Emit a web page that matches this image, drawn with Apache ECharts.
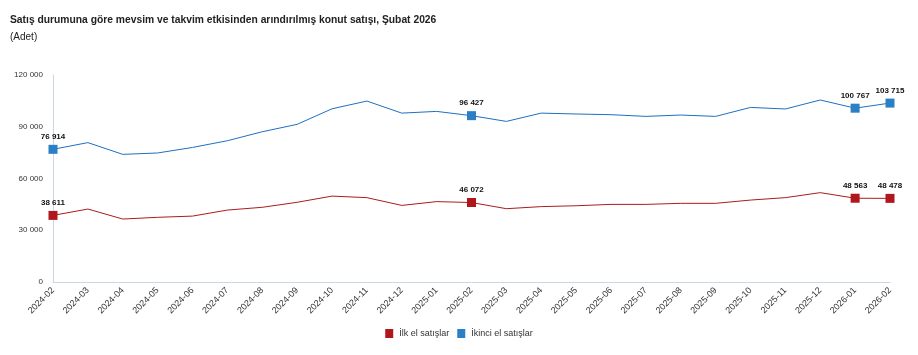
<!DOCTYPE html>
<html>
<head>
<meta charset="utf-8">
<script src="https://cdn.jsdelivr.net/npm/echarts@6/dist/echarts.min.js"></script>
<style>
html,body{margin:0;padding:0;background:#fff;}
#c{width:918px;height:355px;}
</style>
</head>
<body>
<div id="c"></div>
<script>
const categories = ['2024-02','2024-03','2024-04','2024-05','2024-06','2024-07','2024-08','2024-09','2024-10','2024-11','2024-12','2025-01','2025-02','2025-03','2025-04','2025-05','2025-06','2025-07','2025-08','2025-09','2025-10','2025-11','2025-12','2026-01','2026-02'];
const ilkEl = [38611,42300,36500,37500,38200,41700,43300,46200,49800,48900,44400,46600,46072,42500,43700,44200,45000,45000,45600,45600,47500,48900,51800,48563,48478];
const ikinciEl = [76914,80800,74000,74800,78000,81900,87100,91400,100400,104900,97900,98900,96427,93100,97900,97400,97000,96000,96800,96000,101200,100300,105500,100767,103715];
const markedIndices = [0,12,23,24];
const yTicks = [0,30000,60000,90000,120000];
const seriesNames = ['İlk el satışlar','İkinci el satışlar'];

const fmt = v => String(v).replace(/\B(?=(\d{3})+(?!\d))/g, ' ');

function build(values){
  return values.map((v,i) => markedIndices.includes(i)
    ? {value:v, symbol:'rect', symbolSize:9, label:{show:true}}
    : {value:v});
}

const chart = echarts.init(document.getElementById('c'), null, {renderer:'canvas'});
chart.setOption({
  animation:false,
  textStyle:{fontFamily:'"Liberation Sans", Arial, sans-serif'},
  title:[
    {text:'Satış durumuna göre mevsim ve takvim etkisinden arındırılmış konut satışı, Şubat 2026',
     left:10, top:15, padding:0, textStyle:{fontSize:10.3, fontWeight:'bold', color:'#222'}},
    {text:'(Adet)', left:10, top:32, padding:0, textStyle:{fontSize:10, fontWeight:'normal', color:'#222'}}
  ],
  color:['#b0171c','#2a7fc5'],
  legend:{
    data:seriesNames, bottom:12, left:'center', icon:'rect', itemWidth:8, itemHeight:9, itemGap:8,
    textStyle:{fontSize:9, color:'#333', padding:[0,0,0,1]}
  },
  grid:{left:53, right:28, top:75, bottom:73},
  xAxis:{
    type:'category', data:categories, boundaryGap:false,
    axisLine:{lineStyle:{color:'#ccd6eb'}},
    axisTick:{show:false},
    axisLabel:{rotate:45, fontSize:9, color:'#333', margin:7, interval:0}
  },
  yAxis:{
    type:'value', min:yTicks[0], max:yTicks[yTicks.length-1], interval:30000,
    axisLine:{show:true, lineStyle:{color:'#ccd6eb'}},
    splitLine:{show:false},
    axisLabel:{fontSize:8, color:'#333', margin:10, formatter:fmt}
  },
  series:[
    {name:seriesNames[0], type:'line', data:build(ilkEl), symbol:'none',
     lineStyle:{width:1, color:'#a81c1c'}, itemStyle:{color:'#b0171c'},
     label:{show:false, position:'top', distance:4, fontSize:8, fontWeight:'bold', color:'#111', formatter:p=>fmt(p.value)}},
    {name:seriesNames[1], type:'line', data:build(ikinciEl), symbol:'none',
     lineStyle:{width:1, color:'#1f6fbf'}, itemStyle:{color:'#2a7fc5'},
     label:{show:false, position:'top', distance:4, fontSize:8, fontWeight:'bold', color:'#111', formatter:p=>fmt(p.value)}}
  ]
});
</script>
</body>
</html>
